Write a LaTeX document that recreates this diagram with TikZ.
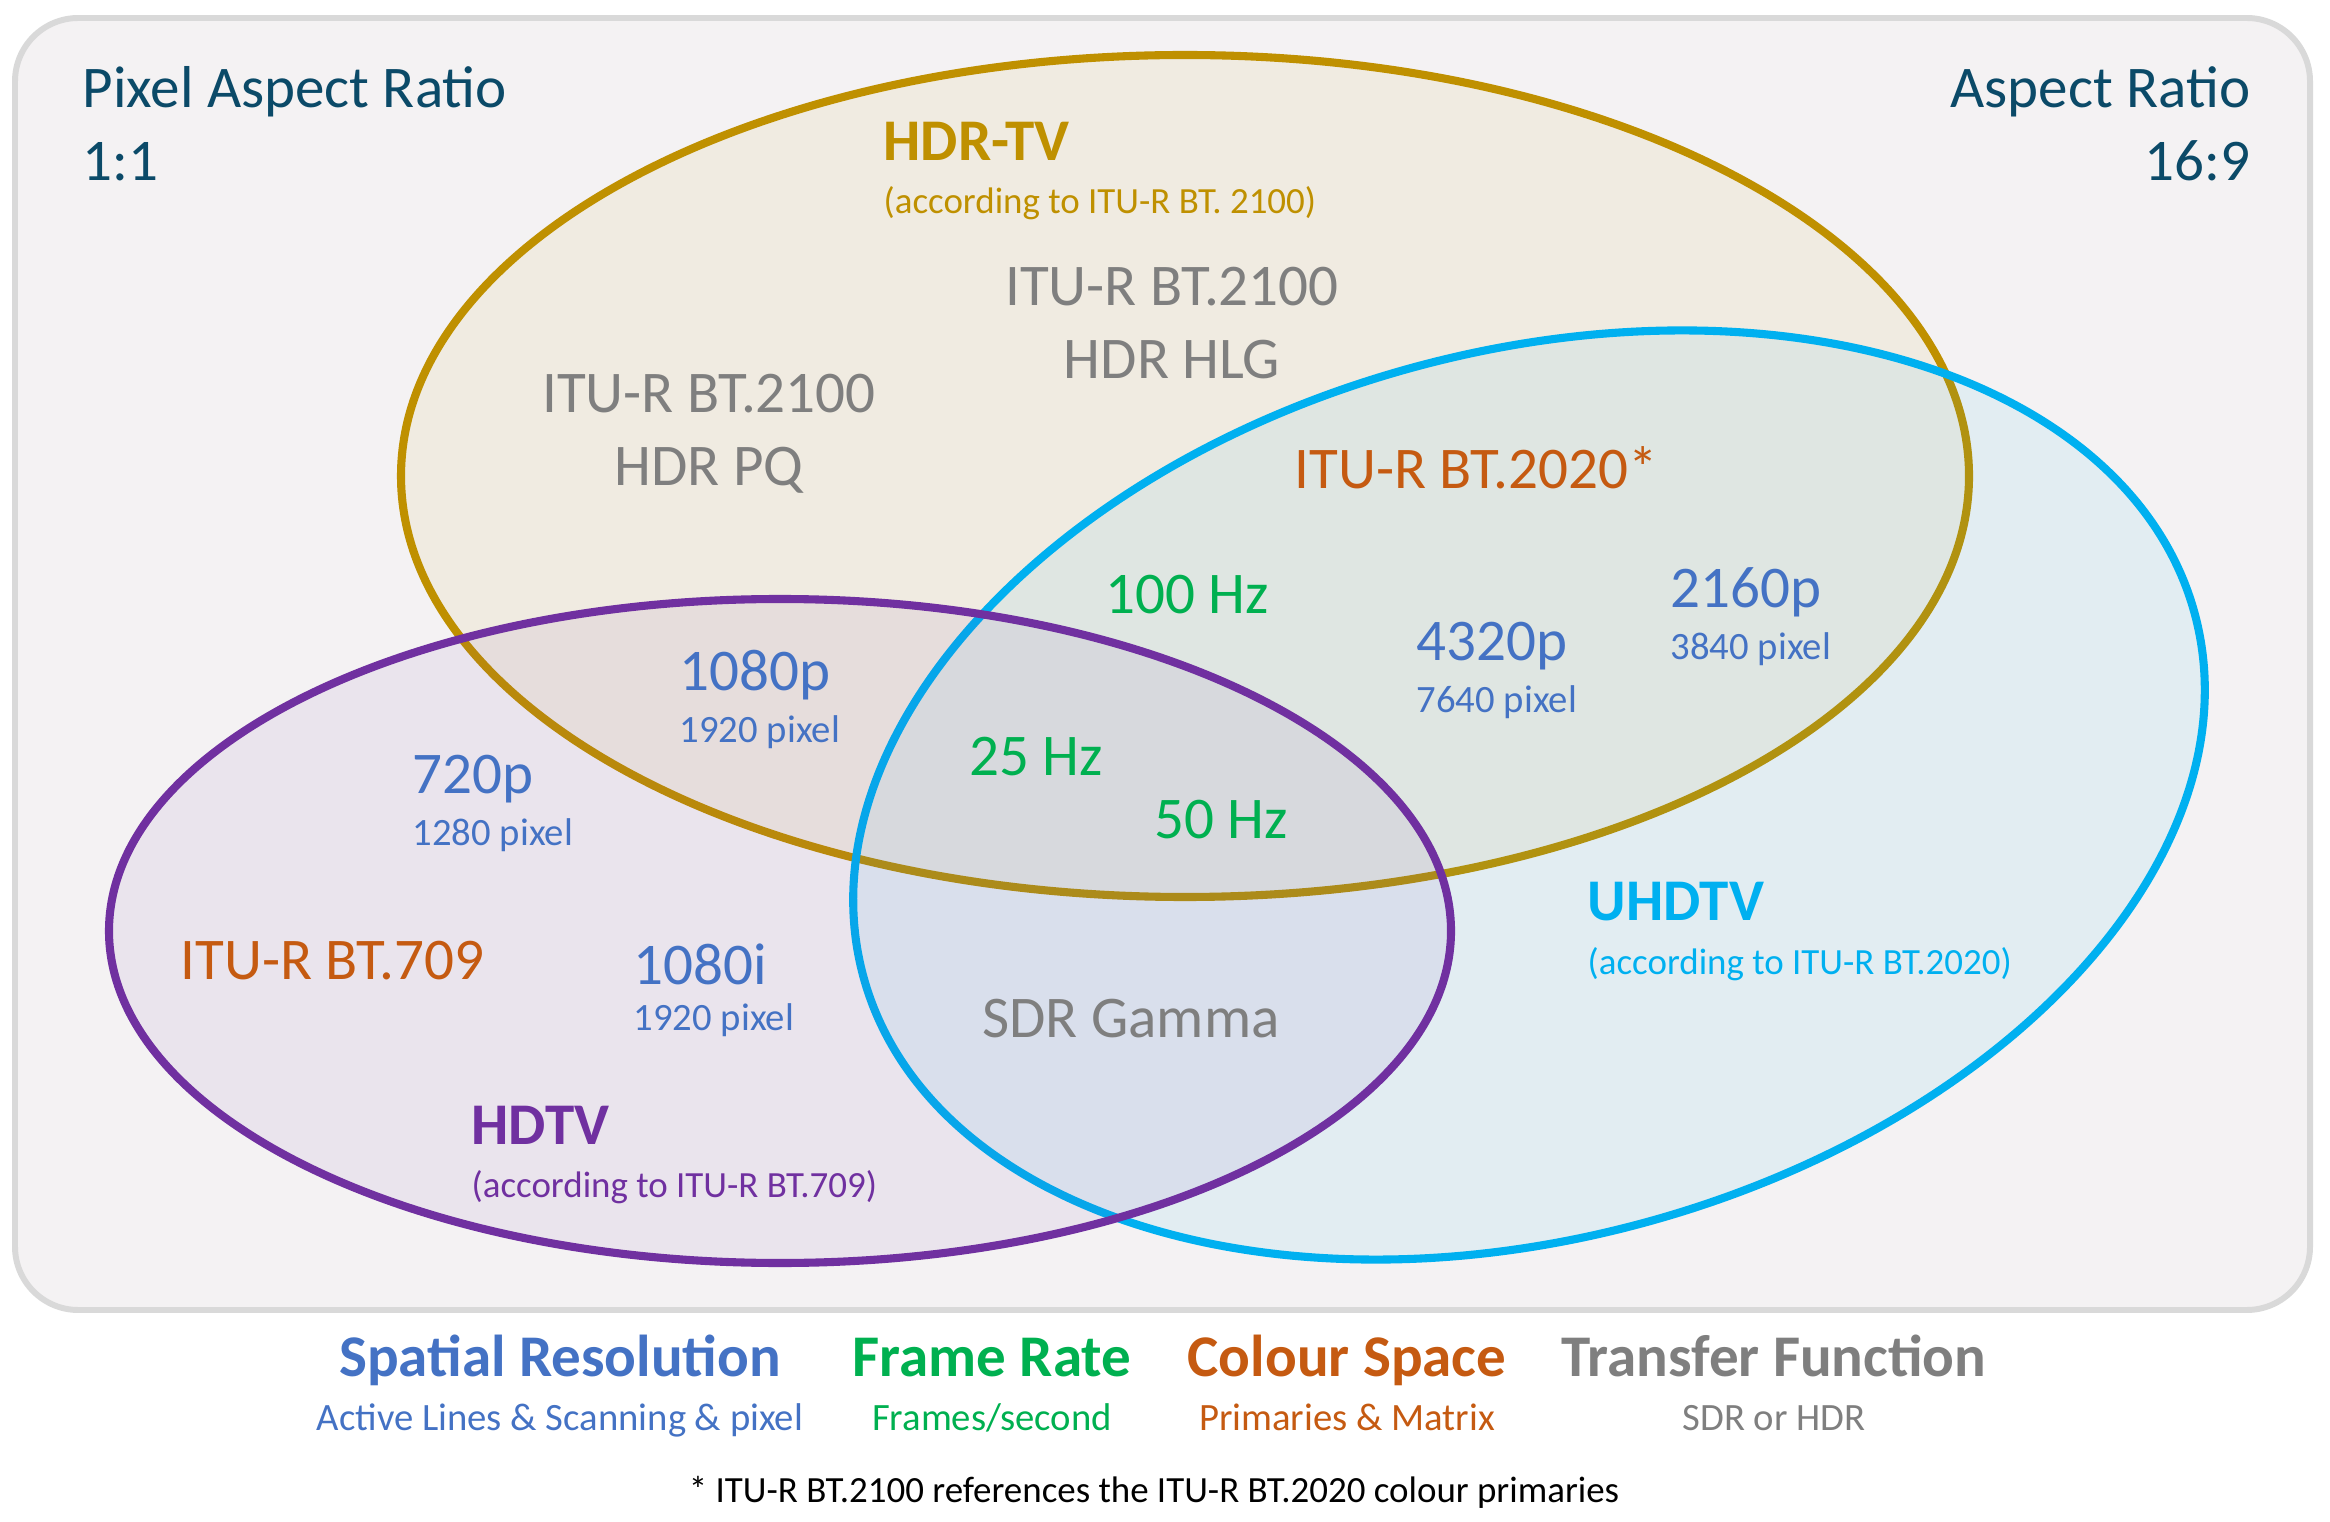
\documentclass[tikz,border=0pt]{standalone}
\usepackage{fontspec}
\setmainfont{Carlito}
\usetikzlibrary{positioning}
\definecolor{frame}{HTML}{D9D9D9}
\definecolor{paper}{HTML}{F4F2F3}
\definecolor{heading}{HTML}{0B4A68}
\definecolor{hdrcol}{HTML}{BF9000}
\definecolor{hdcol}{HTML}{7030A0}
\definecolor{uhdcol}{HTML}{00B0F0}
\definecolor{rescol}{HTML}{4472C4}
\definecolor{ratecol}{HTML}{00B050}
\definecolor{spacecol}{HTML}{C55A11}
\definecolor{tfcol}{HTML}{7F7F7F}

\begin{document}
\begin{tikzpicture}[x=0.01cm,y=-0.01cm,
 lbl/.style={inner sep=0pt,align=center,font=\fontsize{16.8}{20.8}\selectfont},
 ttl/.style={inner sep=0pt,font=\fontsize{16.8}{20.8}\selectfont\bfseries},
 sub/.style={inner sep=0pt,font=\fontsize{11}{13}\selectfont},
 ref/.style={inner sep=0pt,font=\fontsize{10.5}{12.5}\selectfont},
 key/.style={text height=0.72em,text depth=0.22em},
 set/.style={line width=2.3pt,fill opacity=0.07}]
\useasboundingbox (0,0) rectangle (2330,1522);
\draw[frame,line width=1.7pt,fill=paper,rounded corners=18pt] (15,18) rectangle (2310,1310);
% the three standards
\draw[set,draw=hdrcol,fill=hdrcol] (1185,476) ellipse [x radius=784,y radius=421];
\draw[set,draw=uhdcol,fill=uhdcol,rotate around={15.3:(1529,795)}] (1529,795) ellipse [x radius=690,y radius=443];
\draw[set,draw=hdcol,fill=hdcol] (780,931) ellipse [x radius=671,y radius=332];
% aspect ratios
\node[lbl,heading,align=left,anchor=west] (par) at (82,124) {Pixel Aspect Ratio\\1:1};
\node[lbl,heading,align=right,anchor=east] (ar) at (2251,124) {Aspect Ratio\\16:9};
% set titles
\node[ttl,hdrcol,anchor=west] (hdrtv) at (883,141) {HDR-TV};
\node[ref,hdrcol,below=7pt of hdrtv.south west,anchor=north west] (hdrref) {(according to ITU-R BT. 2100)};
\node[ttl,hdcol,anchor=west] (hdtv) at (471,1125) {HDTV};
\node[ref,hdcol,below=7pt of hdtv.south west,anchor=north west] (hdref) {(according to ITU-R BT.709)};
\node[ttl,uhdcol,anchor=west] (uhdtv) at (1587,902) {UHDTV};
\node[ref,uhdcol,below=7pt of uhdtv.south west,anchor=north west] (uhdref) {(according to ITU-R BT.2020)};
% transfer functions
\node[lbl,tfcol] (hlg) at (1172,323) {ITU-R BT.2100\\HDR HLG};
\node[lbl,tfcol] (pq) at (709,434) {ITU-R BT.2100\\HDR PQ};
\node[lbl,tfcol] (sdr) at (1131,1019) {SDR Gamma};
% colour spaces
\node[lbl,spacecol] (bt2020) at (1476,468) {ITU-R BT.2020*};
\node[lbl,spacecol,anchor=west] (bt709) at (180,961) {ITU-R BT.709};
% frame rates
\node[lbl,ratecol] (hz100) at (1187,595) {100 Hz};
\node[lbl,ratecol] (hz25) at (1036,757) {25 Hz};
\node[lbl,ratecol] (hz50) at (1221,820) {50 Hz};
% resolutions
\node[lbl,rescol,anchor=west] (p4320) at (1416,646) {4320p};
\node[sub,rescol,below=4pt of p4320.south west,anchor=north west] (w4320) {7640 pixel};
\node[lbl,rescol,anchor=west] (p2160) at (1670,592) {2160p};
\node[sub,rescol,below=4pt of p2160.south west,anchor=north west] (w2160) {3840 pixel};
\node[lbl,rescol,anchor=west] (p1080) at (679,675) {1080p};
\node[sub,rescol,below=4pt of p1080.south west,anchor=north west] (w1080) {1920 pixel};
\node[lbl,rescol,anchor=west] (p720) at (412,779) {720p};
\node[sub,rescol,below=4pt of p720.south west,anchor=north west] (w720) {1280 pixel};
\node[lbl,rescol,anchor=west] (i1080) at (633,964) {1080i};
\node[sub,rescol,below=5pt of i1080.south west,anchor=north west] (wi1080) {1920 pixel};
% legend
\node[ttl,key,rescol] (kres) at (560,1368) {Spatial Resolution};
\node[sub,key,rescol,below=5.5pt of kres] (kresd) {Active Lines \& Scanning \& pixel};
\node[ttl,key,ratecol] (krate) at (992,1368) {Frame Rate};
\node[sub,key,ratecol,below=5.5pt of krate] (krated) {Frames/second};
\node[ttl,key,spacecol] (kspace) at (1347,1368) {Colour Space};
\node[sub,key,spacecol,below=5.5pt of kspace] (kspaced) {Primaries \& Matrix};
\node[ttl,key,tfcol] (ktf) at (1774,1368) {Transfer Function};
\node[sub,key,tfcol,below=5.5pt of ktf] (ktfd) {SDR or HDR};
\node[ref] (note) at (1154,1492) {* ITU-R BT.2100 references the ITU-R BT.2020 colour primaries};
\end{tikzpicture}
\end{document}
